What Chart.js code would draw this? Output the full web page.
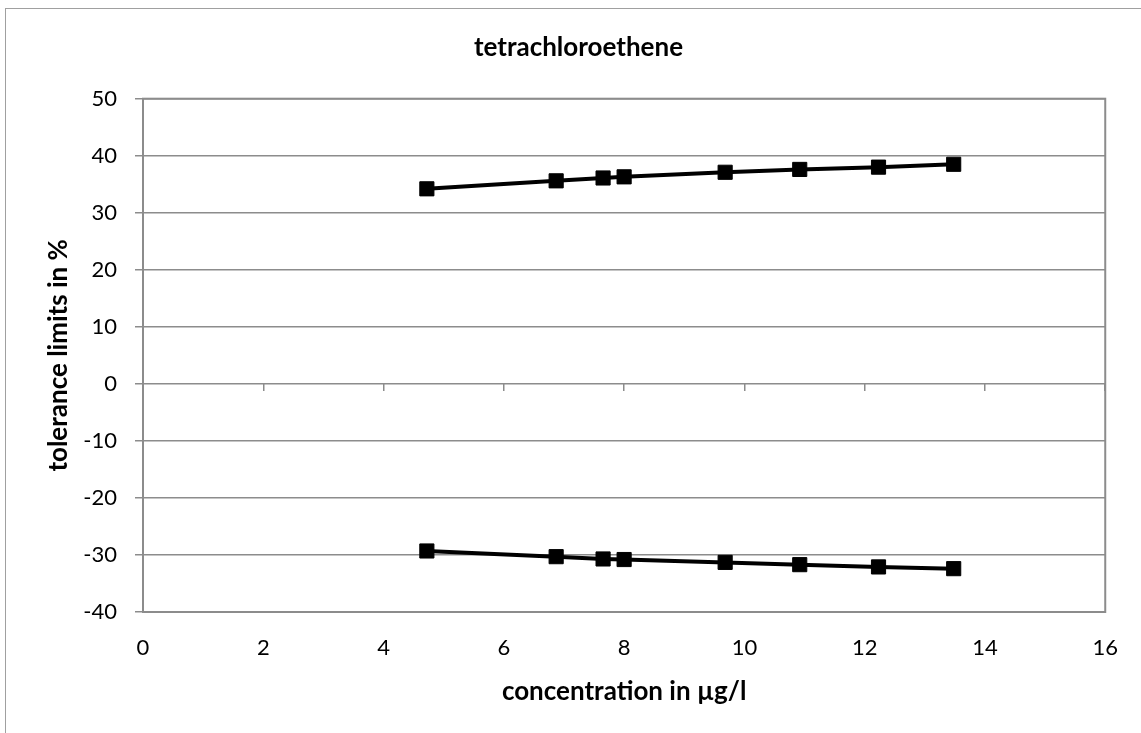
<!DOCTYPE html>
<html>
<head>
<meta charset="utf-8">
<script src="https://cdn.jsdelivr.net/npm/chart.js@4"></script>
<style>
  html, body { margin: 0; padding: 0; background: #fff; }
  #wrap { width: 1141px; height: 733px; }
</style>
</head>
<body>
<div id="wrap"><canvas id="tolChart"></canvas></div>
<script>
// concentration in µg/l
const concentrations = [4.72, 6.87, 7.65, 8.0, 9.68, 10.92, 12.23, 13.48];
// upper and lower tolerance limits in %
const upperLimits = [34.2, 35.6, 36.1, 36.3, 37.1, 37.6, 38.0, 38.5];
const lowerLimits = [-29.3, -30.3, -30.7, -30.8, -31.3, -31.7, -32.1, -32.4];
const xTicks = [0, 2, 4, 6, 8, 10, 12, 14, 16];
const yTicks = [-40, -30, -20, -10, 0, 10, 20, 30, 40, 50];

const toPoints = (xs, ys) => xs.map((x, i) => ({ x: x, y: ys[i] }));

const font = 'Lato, "Liberation Sans", sans-serif';
const gray = '#8c8c8c';

// outer frame + plot area frame
const framePlugin = {
    id: 'frames',
    beforeDraw(chart) {
        const ctx = chart.ctx;
        ctx.save();
        ctx.fillStyle = '#fff';
        ctx.fillRect(0, 0, chart.width, chart.height);
        ctx.strokeStyle = '#a0a0a0';
        ctx.lineWidth = 1;
        ctx.strokeRect(5.5, 8.5, chart.width + 10, chart.height + 10);
        ctx.restore();
    },
    beforeDatasetsDraw(chart) {
        const a = chart.chartArea;
        const ctx = chart.ctx;
        ctx.save();
        ctx.strokeStyle = gray;
        ctx.lineWidth = 2;
        ctx.strokeRect(a.left, a.top, a.right - a.left, a.bottom - a.top);
        ctx.restore();
    }
};

const ctx = document.getElementById('tolChart').getContext('2d');
const tolChart = new Chart(ctx, {
    type: 'scatter',
    data: {
        datasets: [{
            label: 'upper limit',
            data: toPoints(concentrations, upperLimits),
            showLine: true,
            borderColor: '#000',
            backgroundColor: '#000',
            borderWidth: 4,
            pointStyle: 'rect',
            pointRadius: 10,
            pointBorderWidth: 1
        }, {
            label: 'lower limit',
            data: toPoints(concentrations, lowerLimits),
            showLine: true,
            borderColor: '#000',
            backgroundColor: '#000',
            borderWidth: 4,
            pointStyle: 'rect',
            pointRadius: 10,
            pointBorderWidth: 1
        }]
    },
    options: {
        responsive: true,
        maintainAspectRatio: false,
        animation: false,
        layout: { padding: { left: 16, right: 0, top: 0, bottom: 0 } },
        plugins: {
            legend: { display: false },
            tooltip: { enabled: false },
            title: {
                display: true,
                text: 'tetrachloroethene',
                color: '#000',
                font: { family: font, size: 26, weight: 'bold', lineHeight: 1.2 },
                padding: { top: 32, bottom: 35.5 }
            }
        },
        scales: {
            x: {
                type: 'linear',
                position: 'bottom',
                min: 0,
                max: 16,
                afterBuildTicks: (s) => { s.ticks = xTicks.map(v => ({ value: v })); },
                afterFit: (s) => { s.height = 121; },
                grid: { display: false, drawTicks: false },
                border: { display: false },
                ticks: { color: '#000', font: { family: font, size: 22 }, padding: 23, maxRotation: 0 },
                title: {
                    display: true,
                    text: 'concentration in µg/l',
                    color: '#000',
                    font: { family: font, size: 26, weight: 'bold', lineHeight: 1.2 },
                    padding: { top: 0, bottom: 26 }
                }
            },
            x0: {
                type: 'linear',
                axis: 'x',
                position: { y: 0 },
                min: 0,
                max: 16,
                afterBuildTicks: (s) => { s.ticks = xTicks.map(v => ({ value: v })); },
                grid: { drawOnChartArea: false, drawTicks: true, tickLength: 7, color: gray, lineWidth: 1.5 },
                border: { display: false },
                ticks: { display: false }
            },
            y: {
                type: 'linear',
                position: 'left',
                min: -40,
                max: 50,
                afterBuildTicks: (s) => { s.ticks = yTicks.map(v => ({ value: v })); },
                afterFit: (s) => { s.width = 127; },
                grid: { color: gray, lineWidth: 1.5, tickLength: 8, drawTicks: true },
                border: { display: false },
                ticks: { color: '#000', font: { family: font, size: 22 }, padding: 18 },
                title: {
                    display: true,
                    text: 'tolerance limits in %',
                    color: '#000',
                    font: { family: font, size: 26, weight: 'bold', lineHeight: 1.2 },
                    padding: { top: 27, bottom: 0 }
                }
            },
            yRight: {
                type: 'linear',
                position: 'right',
                min: -40,
                max: 50,
                afterFit: (s) => { s.width = 34; },
                grid: { display: false, drawTicks: false },
                border: { display: false },
                ticks: { display: false }
            }
        }
    },
    plugins: [framePlugin]
});
</script>
</body>
</html>
